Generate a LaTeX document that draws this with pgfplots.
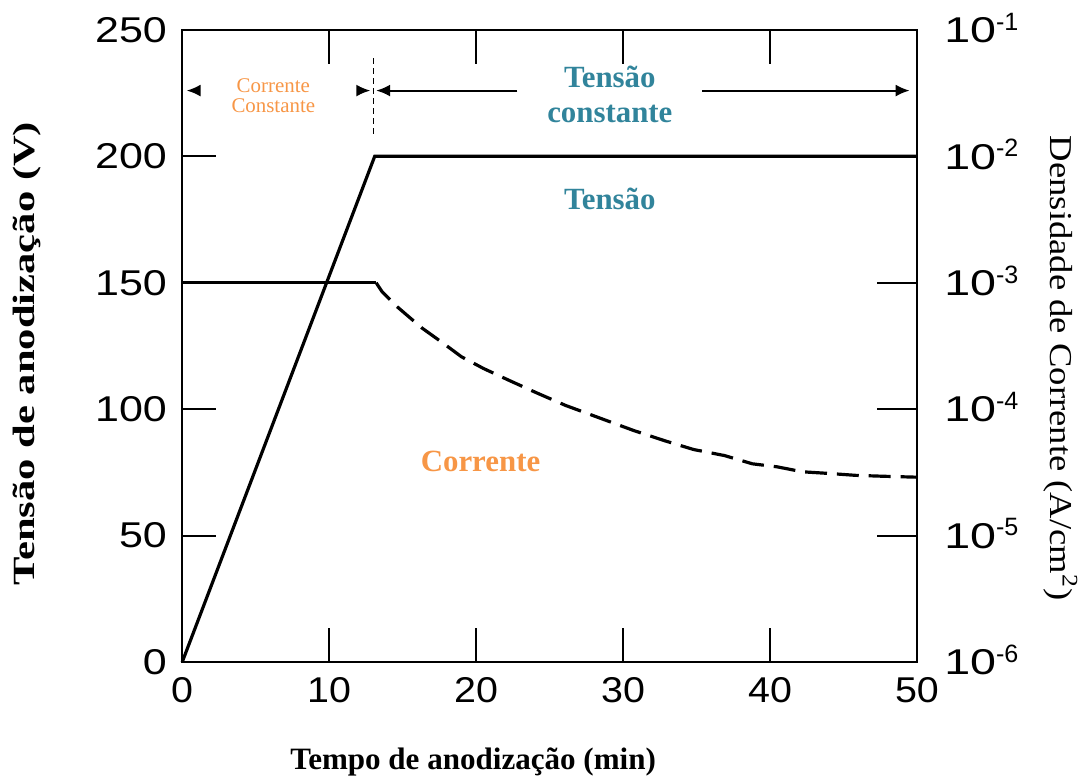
\documentclass[border=0pt]{standalone}
\usepackage{pgfplots}
\pgfplotsset{compat=1.18}
\usepackage{fontspec}
\setmainfont{Liberation Serif}
\newfontfamily\sansf{Liberation Sans}
\usepackage{graphicx}
\usetikzlibrary{arrows.meta}
\definecolor{tealc}{HTML}{31849B}
\definecolor{orangec}{HTML}{F79646}
\newcommand\yl[1]{\scalebox{1.2}[1]{#1}}
\newcommand\xl[1]{\scalebox{1.1}[1]{#1}}
\newcommand\rl[1]{\scalebox{1.3}[1]{10}\textsuperscript{-#1}}

\begin{document}
\begin{tikzpicture}
\begin{axis}[
  scale only axis, width=369pt, height=317.5pt,
  xmin=0, xmax=50, ymin=0, ymax=250,
  xtick={0,10,20,30,40,50}, xticklabels={\xl{0},\xl{10},\xl{20},\xl{30},\xl{40},\xl{50}},
  ytick={0,50,100,150,200,250}, yticklabels={\yl{0},\yl{50},\yl{100},\yl{150},\yl{200},\yl{250}},
  ytick pos=left, xtick pos=both, xticklabel pos=bottom,
  tick align=inside, major tick length=17pt,
  axis line style={line width=1.1pt},
  tick style={line width=0.9pt, black},
  ticklabel style={font=\sansf\fontsize{18}{18}\selectfont},
  yticklabel style={anchor=east, inner sep=0pt, xshift=-7.5pt},
  xticklabel style={anchor=north, inner sep=0pt, yshift=-7.5pt},
  clip=false,
]
\coordinate (SW) at (rel axis cs:0,0);
\coordinate (NE) at (rel axis cs:1,1);
% Tensao (voltage)
\addplot[black, line width=1.6pt] coordinates {(0,0) (13.1,200) (50,200)};

% annotations
\draw[densely dashed, line width=0.6pt] (axis cs:13,209) -- (axis cs:13,239);
\draw[-{Latex[length=7pt,width=6pt]}, line width=1pt] (axis cs:1.0,226) -- (axis cs:0.3,226);
\draw[-{Latex[length=7pt,width=6pt]}, line width=1pt] (axis cs:12.0,226) -- (axis cs:12.8,226);
\draw[-{Latex[length=7pt,width=6pt]}, line width=1pt] (axis cs:22.8,226) -- (axis cs:13.2,226);
\draw[-{Latex[length=7pt,width=6pt]}, line width=1pt] (axis cs:35.4,226) -- (axis cs:49.5,226);
\node[orangec, align=center, font=\fontsize{10.5}{10}\selectfont] at (axis cs:6.2,224) {Corrente\\Constante};
\node[tealc, align=center, font=\bfseries\fontsize{15.5}{17.5}\selectfont] at (axis cs:29.1,224.5) {Tensão\\constante};
\node[tealc, font=\bfseries\fontsize{15.5}{17.5}\selectfont] at (axis cs:29.1,183) {Tensão};
\node[orangec, font=\bfseries\fontsize{15.5}{17.5}\selectfont] at (axis cs:20.3,79.5) {Corrente};

% axis labels
\node[rotate=90, font=\bfseries\fontsize{15.5}{15.5}\selectfont] at ([xshift=-78pt]rel axis cs:0,0.488) {\scalebox{1.38}[1]{Tensão de anodização (V)}};
\node[rotate=-90, font=\fontsize{16}{16}\selectfont] at ([xshift=72pt]rel axis cs:1,0.465) {\scalebox{1.15}[1]{Densidade de Corrente (A/cm\textsuperscript{2})}};
\node[font=\bfseries\fontsize{15.6}{15.6}\selectfont] at ([yshift=-50pt]rel axis cs:0.396,0) {Tempo de anodização (min)};
\end{axis}

\begin{axis}[
  scale only axis, width=369pt, height=317.5pt,
  xmin=0, xmax=50, ymode=log, ymin=1e-6, ymax=1e-1,
  axis y line*=right, axis x line=none,
  yminorticks=false,
  ytick={1e-6,1e-5,1e-4,1e-3,1e-2,1e-1},
  yticklabels={\rl{6},\rl{5},\rl{4},\rl{3},\rl{2},\rl{1}},
  tick align=inside, major tick length=20pt,
  axis line style={line width=1.1pt},
  tick style={line width=0.9pt, black},
  ticklabel style={font=\sansf\fontsize{18}{18}\selectfont},
  yticklabel style={anchor=base west, inner sep=0pt, xshift=13.5pt, yshift=-6.4pt},
]
% Corrente (current density)
\addplot[black, line width=1.6pt] coordinates {(0,1e-3) (13.2,1e-3)};
\addplot[black, line width=1.6pt, dash pattern=on 11pt off 5pt] coordinates {
(13.2,1e-3) (13.6,8.5e-4) (14.6,6.5e-4) (16.3,4.4e-4) (17.8,3.3e-4) (19.0,2.6e-4)
(20.5,2.1e-4) (22.2,1.7e-4) (24.1,1.35e-4) (26.1,1.07e-4) (28.2,8.7e-5)
(30.7,6.8e-5) (32.9,5.6e-5) (34.8,4.8e-5) (36.9,4.3e-5) (38.8,3.7e-5)
(40.5,3.5e-5) (42.2,3.2e-5) (44.1,3.1e-5) (45.8,3.0e-5) (47.7,2.95e-5) (50,2.9e-5)};
\end{axis}
\path ([shift={(-91.5pt,-58pt)}]SW) rectangle ([shift={(81.5pt,15pt)}]NE);
\end{tikzpicture}
\end{document}
